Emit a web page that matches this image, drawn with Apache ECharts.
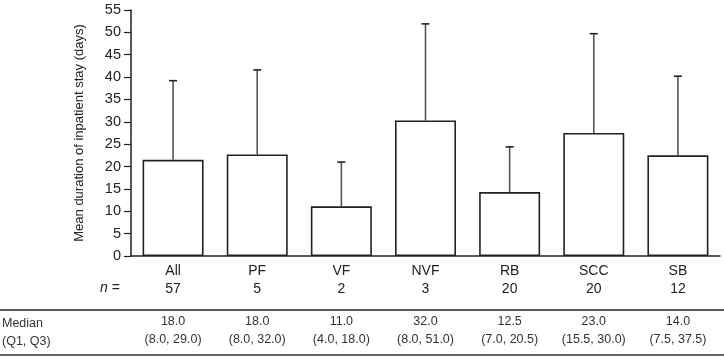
<!DOCTYPE html>
<html>
<head>
<meta charset="utf-8">
<script src="https://cdn.jsdelivr.net/npm/echarts@6/dist/echarts.min.js"></script>
<style>
  html, body { margin: 0; padding: 0; background: #fff; }
  #chart { width: 724px; height: 358px; }
</style>
</head>
<body>
<div id="chart"></div>
<script>
// groups and their sizes
const categories = ["All", "PF", "VF", "NVF", "RB", "SCC", "SB"];
const nValues = [57, 5, 2, 3, 20, 20, 12];
// mean stay (bar) and mean + SD (error bar top)
const meanDays = [21.5, 22.7, 11.1, 30.3, 14.3, 27.5, 22.5];
const upperDays = [39.2, 41.6, 21.0, 51.9, 24.4, 49.7, 40.2];
// table below the chart
const medians = ["18.0", "18.0", "11.0", "32.0", "12.5", "23.0", "14.0"];
const quartiles = ["(8.0, 29.0)", "(8.0, 32.0)", "(4.0, 18.0)", "(8.0, 51.0)", "(7.0, 20.5)", "(15.5, 30.0)", "(7.5, 37.5)"];

const FONT = "Liberation Sans";
const chart = echarts.init(document.getElementById("chart"));

const option = {
  animation: false,
  textStyle: { fontFamily: FONT },
  grid: { left: 131, right: 4, top: 10, bottom: 102 },
  xAxis: {
    type: "category",
    data: categories,
    axisLine: { lineStyle: { color: "#222", width: 1.5 } },
    axisTick: { show: false },
    axisLabel: {
      margin: 7,
      interval: 0,
      formatter: (v, i) =>
        `{c|${v}}\n{n|${nValues[i]}}\n{s| }\n{m|${medians[i]}}\n{q|${quartiles[i]}}`,
      rich: {
        c: { fontSize: 14, lineHeight: 16, color: "#222", fontFamily: FONT },
        n: { fontSize: 14, lineHeight: 20, color: "#222", fontFamily: FONT },
        s: { fontSize: 4, lineHeight: 14 },
        m: { fontSize: 12.5, lineHeight: 18, color: "#333", fontFamily: FONT },
        q: { fontSize: 12.5, lineHeight: 18, color: "#333", fontFamily: FONT }
      }
    }
  },
  yAxis: {
    type: "value",
    min: 0,
    max: 55,
    interval: 5,
    name: "Mean duration of inpatient stay (days)",
    nameLocation: "middle",
    nameGap: 45,
    nameTextStyle: { fontSize: 13, color: "#222", fontFamily: FONT },
    axisLine: { show: true, lineStyle: { color: "#222", width: 1.5 } },
    axisTick: { show: true, length: 7, lineStyle: { color: "#222", width: 1.2 } },
    axisLabel: { fontSize: 14.5, color: "#222", margin: 10, fontFamily: FONT },
    splitLine: { show: false }
  },
  series: [
    {
      type: "bar",
      data: meanDays,
      barWidth: 61,
      itemStyle: { color: "#fff", borderColor: "#222", borderWidth: 1.6 },
      z: 3
    },
    {
      type: "custom",
      data: categories.map((c, i) => [i, meanDays[i], upperDays[i]]),
      z: 2,
      renderItem: (params, api) => {
        const base = api.coord([api.value(0), api.value(1)]);
        const top = api.coord([api.value(0), api.value(2)]);
        const style = { stroke: "#555", lineWidth: 1.6 };
        return {
          type: "group",
          children: [
            { type: "line", shape: { x1: top[0], y1: base[1], x2: top[0], y2: top[1] }, style },
            { type: "line", shape: { x1: top[0] - 4, y1: top[1], x2: top[0] + 4, y2: top[1] }, style: { stroke: "#222", lineWidth: 1.6 } }
          ]
        };
      }
    }
  ],
  graphic: [
    {
      type: "text", left: 100, top: 281,
      style: {
        text: "{i|n} =",
        rich: { i: { fontStyle: "italic", fontSize: 14, fontFamily: FONT, fill: "#222" } },
        fontSize: 14, fontFamily: FONT, fill: "#222"
      }
    },
    { type: "text", left: 2, top: 317, style: { text: "Median", fontSize: 12.5, fontFamily: FONT, fill: "#333" } },
    { type: "text", left: 2, top: 335, style: { text: "(Q1, Q3)", fontSize: 12.5, fontFamily: FONT, fill: "#333" } },
    { type: "line", shape: { x1: 0, y1: 310, x2: 724, y2: 310 }, style: { stroke: "#222", lineWidth: 1.6 } },
    { type: "line", shape: { x1: 0, y1: 355, x2: 724, y2: 355 }, style: { stroke: "#666", lineWidth: 2 } }
  ]
};

chart.setOption(option);
</script>
</body>
</html>
